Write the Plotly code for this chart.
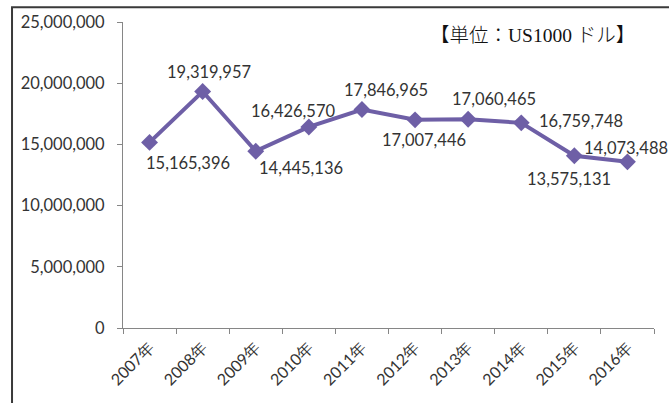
import plotly.graph_objects as go

years = ["2007年", "2008年", "2009年", "2010年", "2011年", "2012年", "2013年", "2014年", "2015年", "2016年"]
values = [15165396, 19319957, 14445136, 16426570, 17846965, 17007446, 17060465, 16759748, 14073488, 13575131]
label_texts = ["15,165,396", "19,319,957", "14,445,136", "16,426,570", "17,846,965",
               "17,007,446", "17,060,465", "16,759,748", "13,575,131", "14,073,488"]
y_ticks = [0, 5000000, 10000000, 15000000, 20000000, 25000000]
unit_text = "【単位：US1000 ドル】"

# label offsets (pixels) relative to each point, as placed in the reference
label_dx = [38, 6, 45, -16, 24, 9, 26, 60, -5, -1]
label_dy = [21, -20, 17, -16, -20, 20, -20, -2, 23, -14]

LINE_COLOR = "#6E5FA6"
FONT = "Lato, 'Open Sans', Arial, sans-serif"

fig = go.Figure()
fig.add_trace(go.Scatter(
    x=years, y=values, mode="lines+markers",
    line=dict(color=LINE_COLOR, width=4),
    marker=dict(symbol="diamond", size=13, color=LINE_COLOR),
    hoverinfo="skip", showlegend=False,
))

for yr, v, t, dx, dy in zip(years, values, label_texts, label_dx, label_dy):
    fig.add_annotation(x=yr, y=v, text=t, showarrow=False,
                       xshift=dx, yshift=-dy, xanchor="center", yanchor="middle",
                       font=dict(family=FONT, size=16.5, color="#333333"))

fig.add_annotation(xref="paper", yref="paper", x=0.772, y=0.955, text=unit_text,
                   showarrow=False, xanchor="center", yanchor="middle",
                   font=dict(family="'Liberation Serif', 'Noto Sans CJK JP', serif", size=19.5,
                             color="#111111", weight=300))

fig.add_shape(type="rect", xref="paper", yref="paper",
              x0=-0.209, x1=1.2, y0=-0.4, y1=1.0485,
              line=dict(color="#3a3a3a", width=2), fillcolor="rgba(0,0,0,0)", layer="above")

fig.update_layout(
    width=669, height=403,
    margin=dict(l=123, r=15, t=19, b=75),
    paper_bgcolor="white", plot_bgcolor="white",
    font=dict(family=FONT, size=16, color="#404040"),
    xaxis=dict(type="category", categoryorder="array", categoryarray=years,
               range=[-0.5, len(years) - 0.5], tickson="boundaries",
               ticks="outside", ticklen=5, tickcolor="#868686",
               showline=True, linecolor="#868686", linewidth=1,
               showgrid=False, zeroline=False, tickangle=-45,
               ticklabelstandoff=3,
               tickfont=dict(family=FONT, size=16, color="#333333")),
    yaxis=dict(range=[0, 25000000], tickvals=y_ticks, tickformat=",",
               ticks="outside", ticklen=5, tickcolor="#868686",
               showline=True, linecolor="#868686", linewidth=1,
               showgrid=False, zeroline=False, ticklabelstandoff=9,
               tickfont=dict(family=FONT, size=16.5, color="#333333")),
)

fig.write_html("out.html")
